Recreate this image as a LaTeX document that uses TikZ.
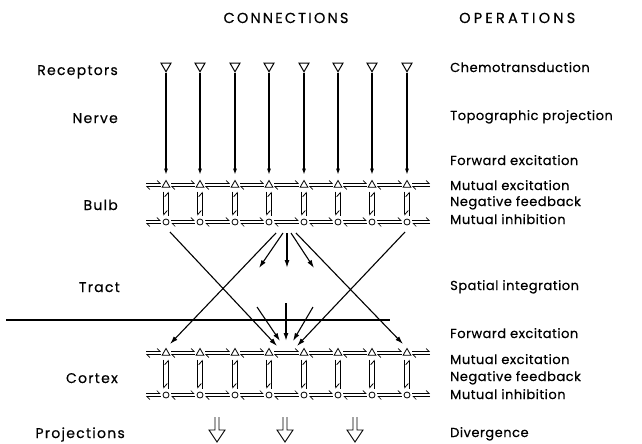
\documentclass[tikz,border=0pt]{standalone}
\usepackage{fontspec}
\setmainfont{Poppins}[LetterSpace=4.0, FakeBold=0.5]
\newfontfamily\capsfont{Poppins}[LetterSpace=15.0, FakeBold=0.5]
\newfontfamily\capswfont{Poppins}[LetterSpace=22.0, FakeBold=0.5]
\newfontfamily\leftfont{Poppins}[LetterSpace=9.0, FakeBold=0.5]
\usetikzlibrary{arrows.meta,shapes.geometric}
\begin{document}
\begin{tikzpicture}[x=1pt,y=-1pt,
  lab/.style={font=\fontsize{13}{15}\selectfont, inner sep=0pt},
  llab/.style={font=\leftfont\fontsize{14}{16}\selectfont, inner sep=0pt, anchor=base east},
  hlab/.style={font=\capsfont\fontsize{14.5}{16}\selectfont, inner sep=0pt},
  hwlab/.style={font=\capswfont\fontsize{14.5}{16}\selectfont, inner sep=0pt},
  rec/.style={regular polygon, regular polygon sides=3, shape border rotate=180, draw, line width=1pt, minimum size=11.5pt, inner sep=0pt},
  mit/.style={regular polygon, regular polygon sides=3, draw, line width=0.8pt, minimum size=9pt, inner sep=0pt},
  gra/.style={circle, draw, line width=0.8pt, minimum size=6pt, inner sep=0pt},
  hp/.style={line width=0.7pt, -{Straight Barb[harpoon, length=3pt, width=6pt]}},
  vp/.style={line width=0.8pt, -{Straight Barb[harpoon, length=4pt, width=7pt]}},
  nerve/.style={line width=1.8pt, -{Latex[length=6pt, width=4pt]}, shorten >=5pt},
  conn/.style={line width=1.1pt, -{Latex[length=8pt, width=5pt]}},
  proj/.style={line width=0.9pt},
]
\useasboundingbox (0,0) rectangle (642,444);

% headers
\node[hlab, anchor=base] (hc) at (286,23) {CONNECTIONS};
\node[hwlab, anchor=base west] (ho) at (459,23) {OPERATIONS};

% left labels
\node[llab] (lrec) at (118,75) {Receptors};
\node[llab] (lner) at (118,123) {Nerve};
\node[llab] (lbul) at (118,210) {Bulb};
\node[llab] (ltra) at (120,292) {Tract};
\node[llab] (lcor) at (118,383) {Cortex};
\node[llab] (lpro) at (125,438) {Projections};

% right labels
\node[lab, anchor=base west] (o1) at (450,72) {Chemotransduction};
\node[lab, anchor=base west] (o2) at (450,120) {Topographic projection};
\node[lab, anchor=base west] (o3) at (450,165) {Forward excitation};
\node[lab, anchor=base west] (o4) at (450,190) {Mutual excitation};
\node[lab, anchor=base west] (o5) at (450,206) {Negative feedback};
\node[lab, anchor=base west] (o6) at (450,224) {Mutual inhibition};
\node[lab, anchor=base west] (o7) at (450,290) {Spatial integration};
\node[lab, anchor=base west] (o8) at (450,338) {Forward excitation};
\node[lab, anchor=base west] (o9) at (450,364) {Mutual excitation};
\node[lab, anchor=base west] (o10) at (450,381) {Negative feedback};
\node[lab, anchor=base west] (o11) at (450,399) {Mutual inhibition};
\node[lab, anchor=base west] (o12) at (450,437) {Divergence};

% cells
\foreach \i/\xx in {1/166,2/200,3/235,4/269,5/304,6/338,7/372,8/407} {
  \node[rec] (r\i) at (\xx,66) {};
  \node[mit] (m\i) at (\xx,185) {};
  \node[gra] (g\i) at (\xx,222) {};
  \node[mit] (p\i) at (\xx,353) {};
  \node[gra] (q\i) at (\xx,395) {};
}
\coordinate (mL) at (146,185); \coordinate (mR) at (430,185);
\coordinate (gL) at (146,222); \coordinate (gR) at (430,222);
\coordinate (pL) at (146,353); \coordinate (pR) at (430,353);
\coordinate (qL) at (146,395); \coordinate (qR) at (430,395);

% nerve
\foreach \i in {1,...,8} {
  \draw[nerve] (r\i.south) -- (m\i.north);
}

% vertical harpoons (negative feedback)
\foreach \i in {1,...,8} {
  \foreach \a/\b in {m/g,p/q} {
    \draw[vp, shorten <=4pt, shorten >=3pt] ([xshift=-2.2pt]\a\i.south) -- ([xshift=-2.2pt]\b\i.north);
    \draw[vp, shorten <=3pt, shorten >=4pt] ([xshift=2.2pt]\b\i.north) -- ([xshift=2.2pt]\a\i.south);
  }
}

% horizontal harpoons
\foreach \r in {m,g,p,q} {
  \foreach \i [evaluate=\i as \j using int(\i+1)] in {1,...,7} {
    \draw[hp, shorten <=2pt, shorten >=2pt] ([yshift=1.5pt]\r\i.east) -- ([yshift=1.5pt]\r\j.west);
    \draw[hp, shorten <=2pt, shorten >=2pt] ([yshift=-1.5pt]\r\j.west) -- ([yshift=-1.5pt]\r\i.east);
  }
  \draw[hp, shorten >=2pt] ([yshift=1.5pt]\r L) -- ([yshift=1.5pt]\r1.west);
  \draw[hp, shorten <=2pt] ([yshift=-1.5pt]\r1.west) -- ([yshift=-1.5pt]\r L);
  \draw[hp, shorten <=2pt] ([yshift=1.5pt]\r8.east) -- ([yshift=1.5pt]\r R);
  \draw[hp, shorten >=2pt] ([yshift=-1.5pt]\r R) -- ([yshift=-1.5pt]\r8.east);
}

% tract
\coordinate (s1) at (170,232);
\coordinate (s8) at (405,232);
\coordinate (sa) at (276,233);
\coordinate (sb) at (283,233);
\coordinate (sc) at (287,233);
\coordinate (sd) at (291,233);
\coordinate (se) at (296,233);
\coordinate (ta) at (259,268);
\coordinate (tb) at (287,268);
\coordinate (tc) at (314,268);
\coordinate (ua) at (257,307);
\coordinate (ub) at (286,303);
\coordinate (uc) at (313,307);
\coordinate (cl) at (170,344);
\coordinate (cr) at (403,344);
\coordinate (c1) at (277,346);
\coordinate (c2) at (286,341);
\coordinate (c3) at (297,346);
\coordinate (c4) at (280,341);
\coordinate (c5) at (293,341);

\draw[conn] (s1) -- (c1);
\draw[conn] (s8) -- (c3);
\draw[conn] (sa) -- (cl);
\draw[conn] (se) -- (cr);
\draw[conn] (sb) -- (ta);
\draw[conn, line width=1.4pt] (sc) -- (tb);
\draw[conn] (sd) -- (tc);
\draw[conn] (ua) -- (c4);
\draw[conn, line width=1.4pt] (ub) -- (c2);
\draw[conn] (uc) -- (c5);

% separating line
\coordinate (h1) at (6,320); \coordinate (h2) at (390,320);
\draw[line width=1.8pt] (h1) -- (h2);

% projections (divergence)
\foreach \x in {217,285,355} {
  \draw[proj, line join=miter] (\x-2,417) -- (\x-2,430) -- (\x-8,430) -- (\x,442) -- (\x+8,430) -- (\x+2,430) -- (\x+2,417);
}
\end{tikzpicture}
\end{document}
